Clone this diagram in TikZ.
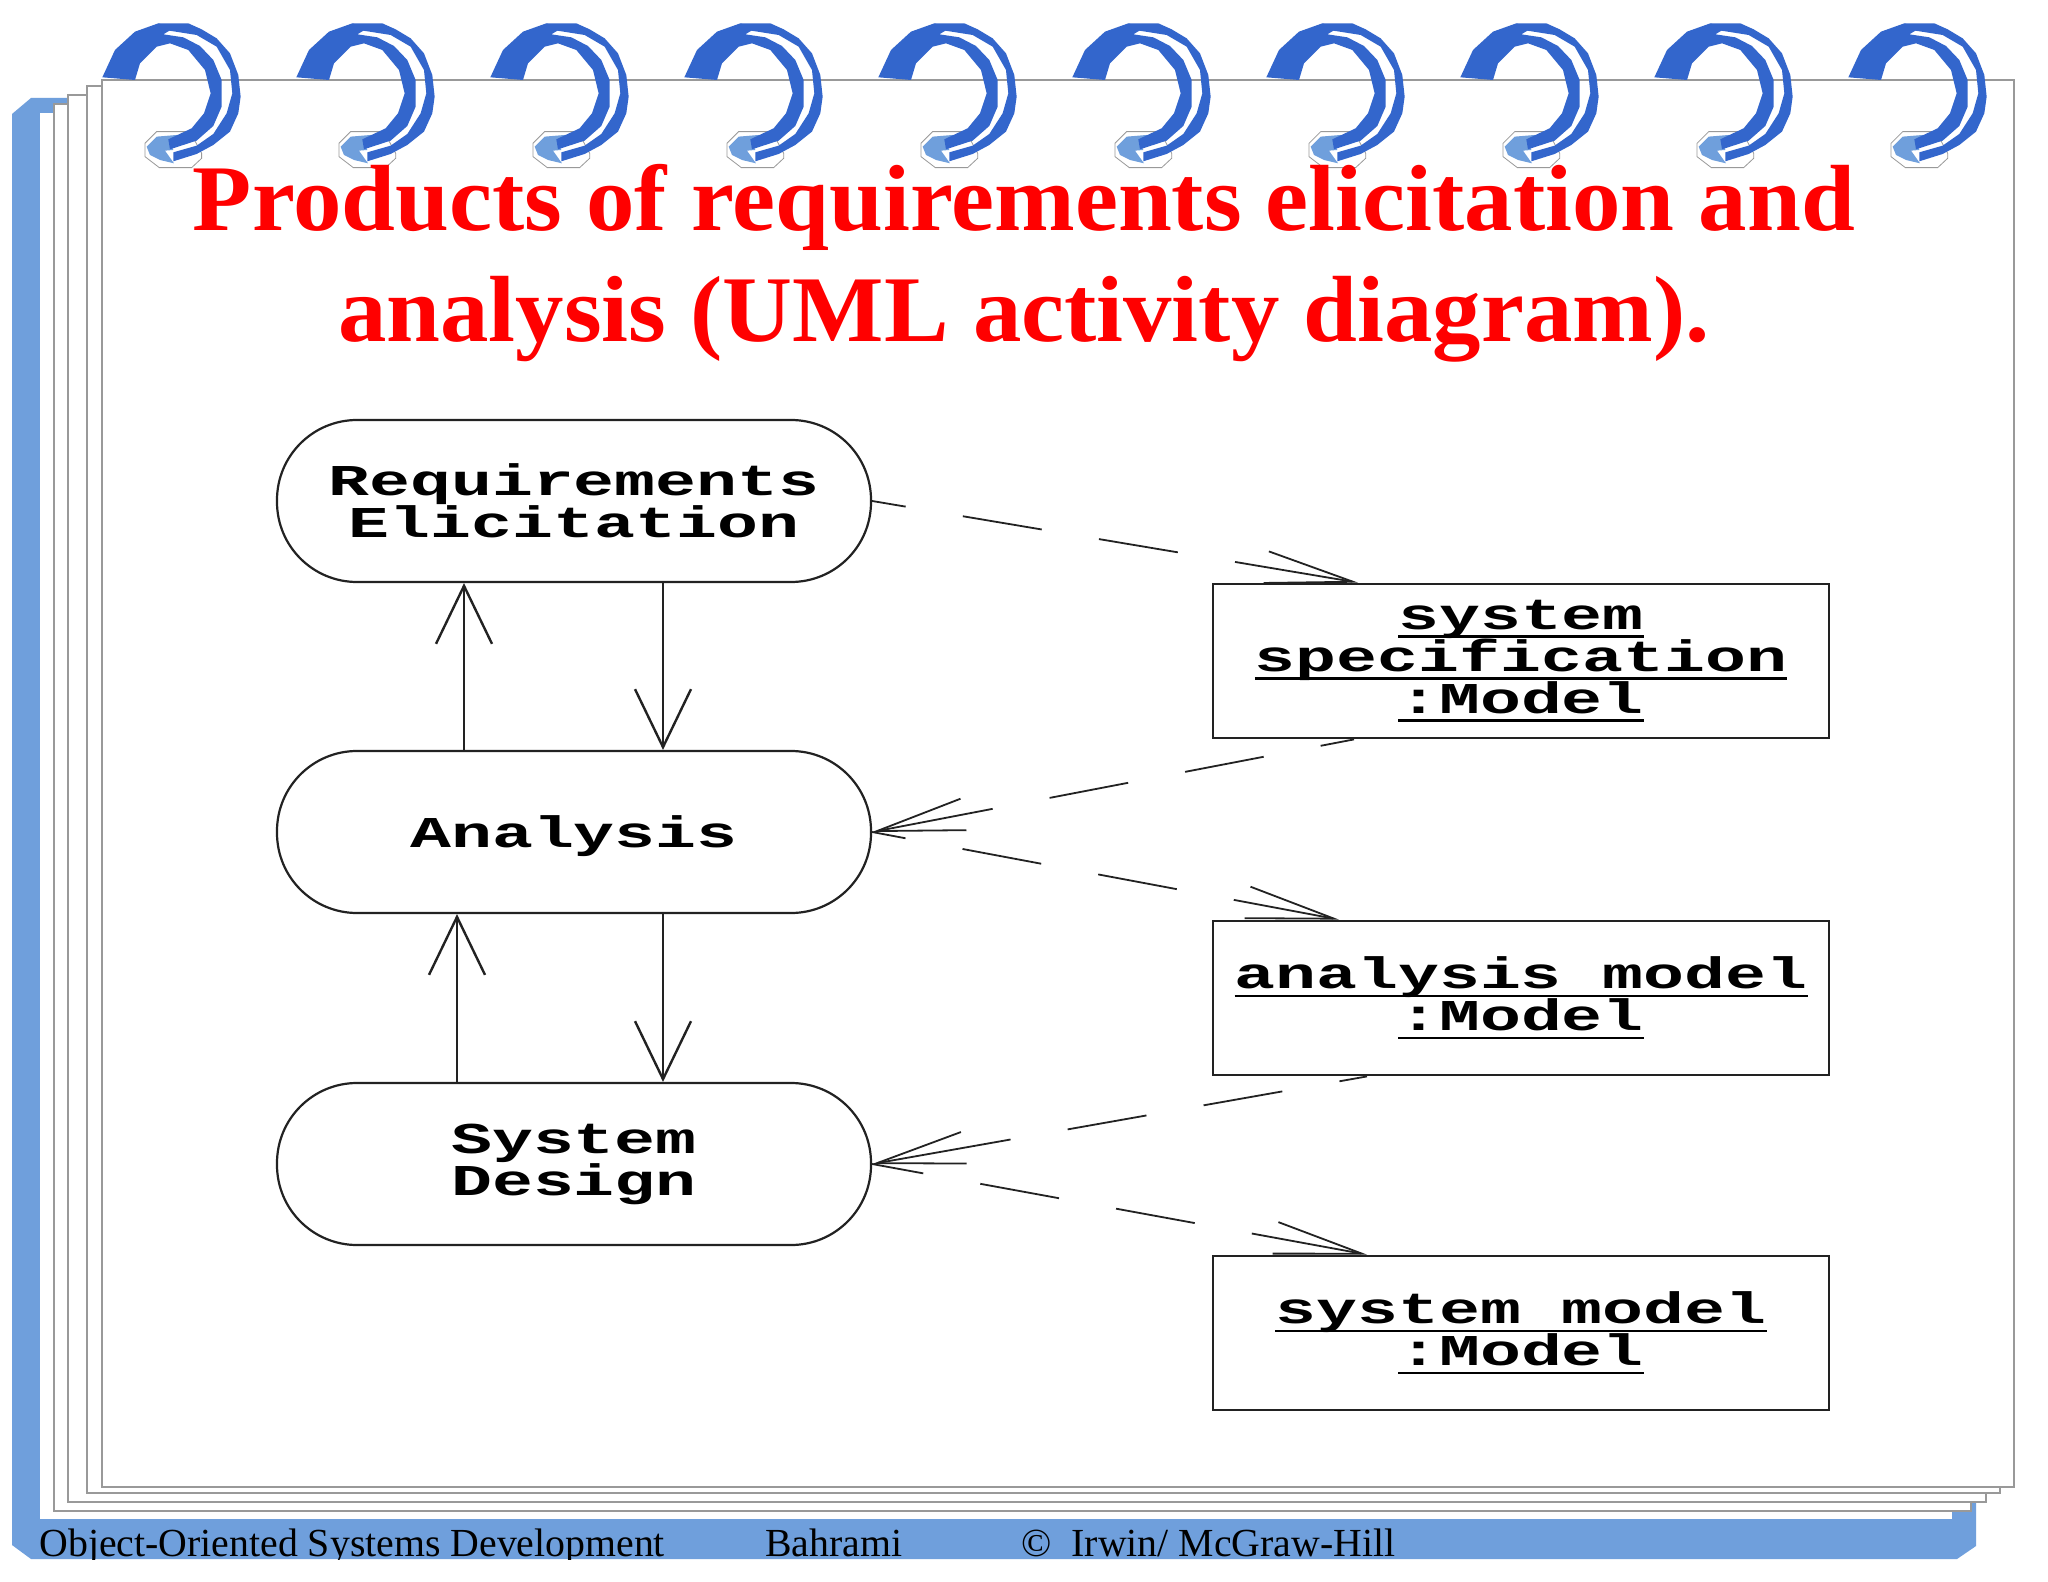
\documentclass[tikz,border=0pt]{standalone}
\usepackage{fontspec}
\usetikzlibrary{arrows.meta}
\setmainfont{Liberation Serif}
\newfontfamily\diagfont[FakeStretch=1.55]{Liberation Mono}
\newfontfamily\titlefont[FakeStretch=1.03]{Liberation Serif}
\definecolor{sheetblue}{HTML}{6F9FDC}
\definecolor{ringblue}{HTML}{3366CC}
\definecolor{sheetgray}{HTML}{999999}
\definecolor{inkgray}{HTML}{222222}
\newcommand{\objname}[1]{\setbox0\hbox{#1}\rlap{\rule[-4pt]{\wd0}{1.2pt}}\box0}
\newcommand{\diagtype}{\diagfont\bfseries\fontsize{22}{21}\selectfont\lineskiplimit=-20pt}
\tikzset{
    sheet/.style={draw=sheetgray, fill=white, line width=0.7pt},
    activity/.style={draw=inkgray, line width=1.1pt, rounded corners=40pt, minimum width=297pt, minimum height=81pt, inner sep=0pt, align=center, font=\diagtype},
    product/.style={draw=inkgray, line width=1.4pt, minimum width=308pt, minimum height=77pt, inner sep=0pt, align=center, font=\diagtype},
    flow/.style={draw=inkgray, line width=1.2pt, -{Straight Barb[length=29pt, width=28pt]}},
    dataflow/.style={draw=inkgray, line width=0.9pt, dash pattern=on 40pt off 29pt on 40pt off 29pt on 40pt off 29pt on 80pt off 1pt, -{Straight Barb[length=44pt, width=16pt]}},
}
\begin{document}
\begin{tikzpicture}[x=0.5pt, y=-0.5pt]
    \useasboundingbox (0, 0) rectangle (2048, 1582);
    \fill[white] (0, 0) rectangle (2048, 1582);
    % pages
    \fill[sheetblue] (12, 114) -- (31, 98) -- (1976, 98) -- (1976, 1546) -- (1957, 1559) -- (31, 1559) -- (12, 1545) -- cycle;
    \fill[white] (40, 113) rectangle (1952, 1519);
    \draw[sheet] (54, 104) rectangle (1971, 1511);
    \draw[sheet] (68, 95) rectangle (1986, 1502);
    \draw[sheet] (87, 86) rectangle (2000, 1493);
    \draw[sheet] (102, 80) rectangle (2014, 1487);
    % binder rings
    \foreach \i in {0,...,9} {
        \begin{scope}[shift={(194*\i, 0)}, scale=0.3333]
            \draw[sheetgray, fill=white, line width=0.4pt] (470, 395) -- (570, 395) -- (605, 460) -- (605, 475) -- (575, 503) -- (478, 503) -- (435, 470) -- (435, 430) -- cycle;
            \fill[sheetblue] (440, 440) -- (470, 410) -- (530, 405) -- (570, 420) -- (510, 425) -- (520, 450) -- (495, 452) -- (522, 490) -- (480, 480) -- (450, 465) -- cycle;
            \fill[ringblue] (307, 232) -- (345, 150) -- (405, 95) -- (475, 70) -- (520, 85) -- (490, 103) -- (550, 112) -- (600, 138) -- (640, 180) -- (665, 240) -- (665, 320) -- (640, 378) -- (590, 422) -- (510, 448) -- (505, 418) -- (575, 385) -- (612, 340) -- (632, 280) -- (615, 210) -- (565, 150) -- (510, 130) -- (470, 140) -- (420, 190) -- (405, 240) -- cycle;
            \fill[ringblue] (475, 70) -- (565, 70) -- (605, 88) -- (650, 115) -- (690, 160) -- (715, 225) -- (722, 290) -- (715, 340) -- (690, 395) -- (640, 435) -- (590, 462) -- (520, 484) -- (520, 457) -- (590, 437) -- (640, 402) -- (680, 340) -- (697, 280) -- (690, 210) -- (650, 140) -- (590, 105) -- (495, 90) -- cycle;
        \end{scope}
    };
    % title and footer
    \node[text=red, align=center, font=\titlefont\bfseries\fontsize{47}{55.5}\selectfont] (title) at (1024, 263) {Products of requirements elicitation and\\analysis (UML activity diagram).};
    \begin{scope}
        \clip (0, 0) rectangle (2048, 1559);
        \node[anchor=base west, inner sep=0pt, font=\fontsize{19.9}{24}\selectfont] (course) at (39, 1556) {Object-Oriented Systems Development};
        \node[anchor=base west, inner sep=0pt, font=\fontsize{19.9}{24}\selectfont] (teacher) at (765, 1556) {Bahrami};
        \node[anchor=base west, inner sep=0pt, font=\fontsize{19.9}{24}\selectfont] (press) at (1021, 1556) {©\hspace{10pt}Irwin/ McGraw-Hill};
    \end{scope}
    % activities
    \node[activity] (elicit) at (574, 501) {Requirements\\Elicitation};
    \node[activity, text height=15pt, text depth=0pt] (analysis) at (574, 832) {Analysis};
    \node[activity] (design) at (574, 1164) {System\\Design};
    % products
    \node[product] (spec) at (1521, 661) {\objname{system}\\\objname{specification}\\\objname{:Model}};
    \node[product] (amodel) at (1521, 998) {\objname{analysis model}\\\objname{:Model}};
    \node[product] (smodel) at (1521, 1333) {\objname{system model}\\\objname{:Model}};
    % control flow
    \draw[flow] ([xshift=-55pt]analysis.north) -- ([xshift=-55pt]elicit.south);
    \draw[flow] ([xshift=44.5pt]elicit.south) -- ([xshift=44.5pt]analysis.north);
    \draw[flow] ([xshift=-58.5pt]design.north) -- ([xshift=-58.5pt]analysis.south);
    \draw[flow] ([xshift=44.5pt]analysis.south) -- ([xshift=44.5pt]design.north);
    % object flow
    \draw[dataflow, dash phase=23pt] (elicit.east) -- ([xshift=-81.5pt]spec.north);
    \draw[dataflow, dash phase=23pt] ([xshift=-83.5pt]spec.south) -- (analysis.east);
    \draw[dataflow, dash phase=23pt] (analysis.east) -- ([xshift=-91pt]amodel.north);
    \draw[dataflow, dash phase=26pt] ([xshift=-77pt]amodel.south) -- (design.east);
    \draw[dataflow, dash phase=14pt] (design.east) -- ([xshift=-77pt]smodel.north);
\end{tikzpicture}
\end{document}
